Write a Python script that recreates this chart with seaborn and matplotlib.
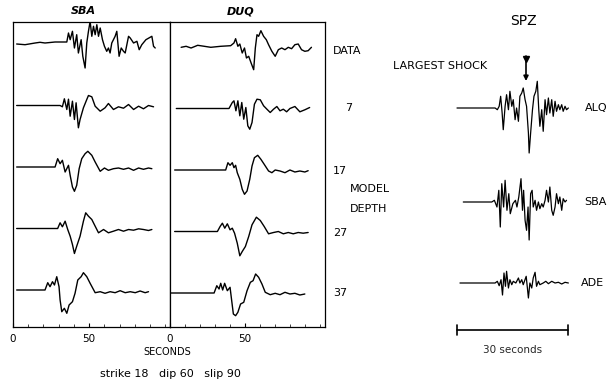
import numpy as np
import pandas as pd
import matplotlib
matplotlib.use("Agg")
import matplotlib.pyplot as plt
import seaborn as sns

# ---------------- data (time in s, amplitude in arbitrary units) ----------------
DEPTH_LABELS = ["DATA", "7", "17", "27", "37"]

SBA_DATA_T = [2.4, 7.9, 14.5, 17.7, 21.0, 27.6, 35.3, 36.4, 37.5, 39.0, 40.3, 41.8, 42.9, 44.7, 45.8, 47.3, 48.4, 49.5, 50.6, 51.7, 52.8, 53.9, 55.0, 56.1, 57.2, 58.7, 60.0, 61.5, 62.6, 63.7, 64.8, 67.0, 68.1, 69.6, 71.0, 72.5, 73.6, 75.8, 76.9, 79.1, 81.3, 82.8, 84.5, 87.2, 91.1, 92.2, 93.3]
SBA_DATA_A = [0, -0.7, 1, 1.7, 1, 2, 2, 11, 4.3, 12.7, -4, 9.3, -9, 4.3, -12.3, -24, 1, 12.7, 22.7, 7.7, 17.7, 9.3, 19.3, 7.7, 16, 4.3, -2.3, -7.3, -4, -9, 1, 7.7, 12.7, -12.3, -4, -7.3, -9, 7.7, 6, 1, 2.7, -5.7, -0.7, 4.3, 7.7, -2.3, -4]

SBA_7_T = [2.4, 30.9, 32.4, 33.7, 35.3, 36.4, 37.5, 39.0, 40.3, 41.4, 42.9, 44.0, 46.2, 48.4, 49.5, 51.7, 53.9, 57.2, 60.4, 62.6, 65.9, 69.2, 72.5, 75.8, 79.1, 82.4, 85.6, 88.9, 92.2]
SBA_7_A = [0, 0, -1.3, 6.7, -4, 6.3, -10.7, 4.3, -14, 2.7, -22.3, -14, -2.3, 6, 10, 8.7, -0.7, -5.7, -2.3, 2, -4, -1.3, -2.7, 1, -4, -0.7, -3.3, 0, -1.3]

SBA_17_T = [2.4, 27.6, 29.3, 30.9, 32.4, 34.2, 36.4, 37.5, 39.0, 40.3, 41.8, 43.4, 45.1, 47.3, 49.1, 51.7, 53.9, 57.2, 60.0, 62.6, 65.9, 69.2, 72.5, 75.8, 79.1, 82.4, 85.6, 88.9, 91.1]
SBA_17_A = [0, 0, 8.3, 3.3, 6.7, -5, 1.7, -8.3, -20, -24.3, -18.3, -1.7, 8.3, 13.3, 15.7, 11.7, 5, -4.3, -1, -3.3, -1.7, -1, -2.3, -1, -3.3, -1, -2.3, -1, -1.7]

SBA_27_T = [2.4, 29.3, 30.9, 32.4, 34.2, 35.9, 37.5, 39.0, 40.3, 41.8, 44.0, 46.2, 47.7, 49.5, 51.7, 53.9, 56.1, 59.4, 62.6, 65.9, 69.2, 72.5, 75.8, 79.1, 82.4, 85.6, 88.9, 91.1]
SBA_27_A = [0, 0, 5.7, 1.7, 7.3, -1, -7.7, -16, -25, -17.7, -7.7, 7.3, 15.7, 12.3, 9, 2.3, -4.3, -1, -4.3, -2.7, -1, -2.7, -1, -1.7, -0.3, -1, -2, -1]

SBA_37_T = [2.4, 21.0, 22.8, 24.3, 25.9, 27.2, 28.7, 30.2, 30.9, 32.0, 33.7, 35.3, 36.8, 39.0, 40.7, 42.5, 44.7, 46.2, 48.4, 50.6, 53.9, 57.2, 60.4, 63.7, 67.0, 70.3, 73.6, 76.9, 80.2, 83.4, 86.7, 88.9]
SBA_37_A = [0, 0, 7.3, 3.3, 8.3, 5, 13.3, 3.3, -10, -21.7, -18.3, -23.3, -15, -11.7, -3.3, 10, 13.3, 17.3, 13.3, 6.7, -2.7, -1.7, -3.3, -1.7, -2.7, -0.7, -2.7, -1.7, -2.7, -1, -2.7, -1.7]

DUQ_DATA_T = [7.4, 10.7, 14.0, 18.4, 22.8, 27.1, 33.7, 40.3, 42.5, 43.6, 45.1, 46.4, 48.0, 49.5, 50.8, 52.3, 53.9, 55.6, 56.7, 57.8, 58.9, 60.4, 62.2, 64.0, 65.5, 67.7, 69.9, 72.0, 74.2, 76.4, 78.6, 80.8, 83.0, 85.2, 87.4, 89.6, 91.8, 94.0]
DUQ_DATA_A = [-0.3, 0.7, -1, 1.7, 0.7, -0.3, 0.7, 1.3, 4, 8.3, 0.7, 3, -6, -1, -11, -9.3, -16, -22.7, -1, 12.3, 10.7, 16.3, 10.7, 7.3, 2.3, -4.3, -9.3, -2.7, -1, -2.7, -0.3, -1.7, 2.3, 3, -2.7, -4.3, -3.7, -0.3]

DUQ_7_T = [4.2, 39.2, 41.4, 42.5, 43.8, 45.1, 46.4, 47.7, 49.0, 50.4, 51.7, 53.0, 54.5, 56.1, 57.8, 60.0, 62.2, 64.4, 66.6, 68.8, 71.0, 73.1, 75.3, 77.5, 79.7, 83.0, 86.3, 89.6, 92.8]
DUQ_7_A = [0, 0, 6, 7.7, -2.3, 7.7, -7.3, 6, -10.7, 1, -17.3, -20.7, -14, 4.3, 9.3, 8.7, 2.7, -0.7, -4, -0.7, 2, -2.3, -0.7, -3.3, 0, 2, -3.3, -1.3, 1]

DUQ_17_T = [3.1, 37.0, 38.5, 39.9, 41.4, 42.5, 43.6, 44.7, 46.4, 48.0, 49.5, 51.2, 53.0, 54.5, 56.1, 58.3, 60.4, 62.6, 65.5, 67.7, 69.9, 73.1, 76.4, 79.7, 83.0, 86.3, 89.6, 91.8]
DUQ_17_A = [0, 0, 7.3, 4.7, 7.3, 2.3, 4.7, -2.7, -9.3, -19.3, -24.3, -21, -9.3, 4, 12.3, 14.7, 10.7, 5.7, -1, -2.7, 0, -1, -2.7, 0, -2, -1, -2, -0.7]

DUQ_27_T = [3.1, 31.5, 33.3, 34.8, 36.4, 38.1, 39.9, 41.4, 42.9, 44.7, 46.4, 48.0, 50.1, 52.3, 54.5, 57.4, 60.0, 62.6, 65.5, 68.8, 72.0, 75.3, 78.6, 81.9, 85.2, 88.5, 91.8]
DUQ_27_A = [0, 0, 5, 8.3, 3.3, 7.7, 1.7, 3.3, -1.7, -11.7, -24.3, -20, -15, -5, 6.7, 14.3, 11, 5, -2.3, -1, 0, -2.3, -1, -2.3, -1, -1.7, -1]

DUQ_37_T = [0.5, 29.3, 31.1, 32.6, 33.7, 35.0, 36.3, 38.1, 39.9, 41.0, 42.1, 43.6, 45.1, 46.9, 49.0, 51.2, 53.4, 55.2, 56.9, 58.9, 61.1, 63.3, 66.6, 69.9, 73.1, 76.4, 79.7, 83.0, 86.3, 89.6]
DUQ_37_A = [0, 0, 7.3, 4, 9.7, 3, 9.7, 2.3, 5.7, -7.7, -21, -22.7, -19.3, -11, -9.3, 2.3, 10.7, 12.3, 19, 15.7, 9, 0.7, -1.7, -0.3, -1.7, 0.7, -1, -0.3, -2, -1]

SPZ_STATIONS = ["ALQ", "SBA", "ADE"]

ALQ_T = [0, 10.3, 10.9, 11.4, 11.8, 12.2, 12.5, 13.0, 13.4, 13.9, 14.3, 14.8, 15.2, 15.7, 16.1, 16.6, 17.0, 17.5, 17.9, 18.4, 18.8, 19.3, 19.5, 19.9, 20.4, 20.8, 21.3, 21.7, 22.1, 22.4, 22.9, 23.3, 23.8, 24.2, 24.7, 25.1, 25.6, 26.0, 26.5, 26.9, 27.4, 27.8, 28.3, 28.7, 29.2, 29.6, 30.1]
ALQ_A = [0, 0, -1.7, 1.7, 11.7, -5, -21.7, 1.7, 13.3, -1.7, 16.7, 1.7, 8.3, -11.7, 0, -13.3, 11.7, 15, 20, 8.3, 1.7, -25, -45, -25, -1.7, 11.7, 16.7, 26.7, -1.7, -18.3, -1.7, -23.3, 8.3, -6.7, 10, -5, 8.3, -8.3, 6.7, -3.3, 3.3, -1.7, 3.3, -3.3, 1.7, -1.7, 0]

SPZ_SBA_T = [1.7, 9.4, 10.1, 10.8, 11.3, 11.7, 12.1, 12.6, 13.0, 13.5, 14.0, 14.4, 15.1, 15.8, 16.2, 16.7, 17.3, 17.7, 18.0, 18.4, 18.8, 19.2, 19.5, 19.9, 20.3, 20.6, 21.1, 21.5, 22.0, 22.4, 22.9, 23.3, 23.8, 24.2, 24.7, 25.1, 25.6, 26.0, 26.5, 26.9, 27.4, 27.8, 28.3, 28.7, 29.2, 29.6]
SPZ_SBA_A = [0, 0, 1.7, -5, 11.7, -25, 18.3, -5, 21.7, -8.3, 8.3, -11.7, -1.7, 1.7, -5, 5, 23.3, -8.3, 11.7, -18.3, -28.3, -5, -38, 8.3, 11.7, -5, 1.7, -8.3, 0, -6.7, -1.7, -5, 1.7, 11.7, 0, 15, -8.3, -13.3, -5, 8.3, -1.7, 5, -8.3, 3.3, 0, 1.7]

ADE_T = [0.8, 10.3, 10.9, 11.4, 11.9, 12.3, 12.7, 13.1, 13.4, 13.9, 14.3, 14.8, 15.2, 15.9, 16.6, 17.0, 17.5, 17.9, 18.7, 19.3, 19.7, 20.2, 20.6, 21.1, 21.5, 22.0, 22.4, 23.3, 24.0, 24.7, 25.6, 26.5, 27.4, 28.3, 29.2, 30.1]
ADE_A = [0, 0, 1.7, -2.7, 3.3, -12, 10, -3.3, 11.7, -5, 3.3, -1.7, 1.7, 0, 5, 0, 3.3, -1.7, 6.7, -15, 0, -5, 5, 10.7, -3.3, 1.7, -1.7, 0, 1.7, -0.7, 1.7, 0, 0.7, -1, 0.7, 0]

SCALE_BAR_SECONDS = 30

# ---------------- layout ----------------
sns.set_theme(style="white")
plt.rcParams["font.family"] = ["DejaVu Sans"]

W, H = 615, 384
fig = plt.figure(figsize=(W / 100, H / 100), dpi=100)
fig.patch.set_facecolor("white")


def px_axes(x0, y0, x1, y1):
    return fig.add_axes([x0 / W, 1 - y1 / H, (x1 - x0) / W, (y1 - y0) / H])


def ftext(x, y, s, **kw):
    kw.setdefault("ha", "left")
    kw.setdefault("va", "center")
    kw.setdefault("color", "black")
    fig.text(x / W, 1 - y / H, s, **kw)


ROW_STEP = 61.5


def stack(traces):
    frames = []
    for i, (label, t, a) in enumerate(traces):
        frames.append(pd.DataFrame({"time": t,
                                    "amp": np.asarray(a, float) - i * ROW_STEP,
                                    "trace": label}))
    return pd.concat(frames, ignore_index=True)


sba_df = stack(list(zip(DEPTH_LABELS,
                        [SBA_DATA_T, SBA_7_T, SBA_17_T, SBA_27_T, SBA_37_T],
                        [SBA_DATA_A, SBA_7_A, SBA_17_A, SBA_27_A, SBA_37_A])))
duq_df = stack(list(zip(DEPTH_LABELS,
                        [DUQ_DATA_T, DUQ_7_T, DUQ_17_T, DUQ_27_T, DUQ_37_T],
                        [DUQ_DATA_A, DUQ_7_A, DUQ_17_A, DUQ_27_A, DUQ_37_A])))

ax_sba = px_axes(13, 22, 170, 327)
ax_duq = px_axes(170, 22, 325, 327)

for ax, df, title, tx, ylim in [(ax_sba, sba_df, "SBA", 83, (-283, 22)),
                                (ax_duq, duq_df, "DUQ", 241, (-280, 25))]:
    sns.lineplot(data=df, x="time", y="amp", units="trace", estimator=None,
                 sort=False, color="black", lw=1.0, ax=ax)
    ax.set_xlim(0, 103)
    ax.set_ylim(*ylim)
    ax.set_xlabel("")
    ax.set_ylabel("")
    ax.set_yticks([])
    ax.set_xticks([0, 50])
    ax.set_xticklabels(["0", "50"], fontsize=7.5)
    ax.set_xticks(np.arange(0, 101, 10), minor=True)
    ax.tick_params(axis="x", which="major", direction="in", length=3,
                   width=0.8, pad=5, colors="black", bottom=True)
    ax.tick_params(axis="x", which="minor", direction="in", length=2,
                   width=0.6, bottom=True)
    for sp in ax.spines.values():
        sp.set_visible(True)
        sp.set_color("black")
        sp.set_linewidth(0.9)
    ax.set_facecolor("white")
    ftext(tx, 11, title, ha="center", fontsize=8, fontweight="bold",
          fontstyle="italic")

# depth labels
ftext(333, 51, "DATA", fontsize=8)
ftext(345, 108, "7", fontsize=8)
ftext(333, 171, "17", fontsize=8)
ftext(350, 189, "MODEL", fontsize=8)
ftext(350, 209, "DEPTH", fontsize=8)
ftext(333, 233, "27", fontsize=8)
ftext(333, 293, "37", fontsize=8)

ftext(167, 352, "SECONDS", ha="center", fontsize=7)
ftext(170, 374, "strike 18   dip 60   slip 90", ha="center", fontsize=8)

# ---------------- SPZ panel ----------------
PX_PER_S = 3.7
T0_PX = 457
x0, x1 = 440, 615
ax_spz = px_axes(x0, 0, x1, H)
ax_spz.set_xlim((x0 - T0_PX) / PX_PER_S, (x1 - T0_PX) / PX_PER_S)
ax_spz.set_ylim(H, 0)
ax_spz.axis("off")

spz_base = [108, 202, 283]
frames = []
for name, t, a, b in zip(SPZ_STATIONS, [ALQ_T, SPZ_SBA_T, ADE_T],
                         [ALQ_A, SPZ_SBA_A, ADE_A], spz_base):
    frames.append(pd.DataFrame({"time": t, "amp": b - np.asarray(a, float),
                                "trace": name}))
spz_df = pd.concat(frames, ignore_index=True)
sns.lineplot(data=spz_df, x="time", y="amp", units="trace", estimator=None,
             sort=False, color="black", lw=0.9, ax=ax_spz)
ax_spz.set_xlabel("")
ax_spz.set_ylabel("")

for name, b, lx in zip(SPZ_STATIONS, spz_base, [585, 584, 581]):
    ftext(lx, b, name, fontsize=8)

ftext(523, 21, "SPZ", ha="center", fontsize=10)
ftext(393, 66, "LARGEST SHOCK", fontsize=8)
ax_spz.annotate("", xy=((526 - T0_PX) / PX_PER_S, 81),
                xytext=((526 - T0_PX) / PX_PER_S, 56),
                arrowprops=dict(arrowstyle="-|>", color="black", lw=1.2,
                                mutation_scale=7, shrinkA=0, shrinkB=0))
ax_spz.plot([(526 - T0_PX) / PX_PER_S], [59], marker="v", color="black",
            markersize=4)

# scale bar
ax_spz.plot([0, SCALE_BAR_SECONDS], [330, 330], color="black", lw=1.2)
for xb in [0, SCALE_BAR_SECONDS]:
    ax_spz.plot([xb, xb], [325, 335], color="black", lw=1.2)
ax_spz.text(SCALE_BAR_SECONDS / 2, 350, f"{SCALE_BAR_SECONDS} seconds",
            ha="center", va="center", fontsize=7.5)

fig.savefig("out.png", dpi=100, facecolor="white")
